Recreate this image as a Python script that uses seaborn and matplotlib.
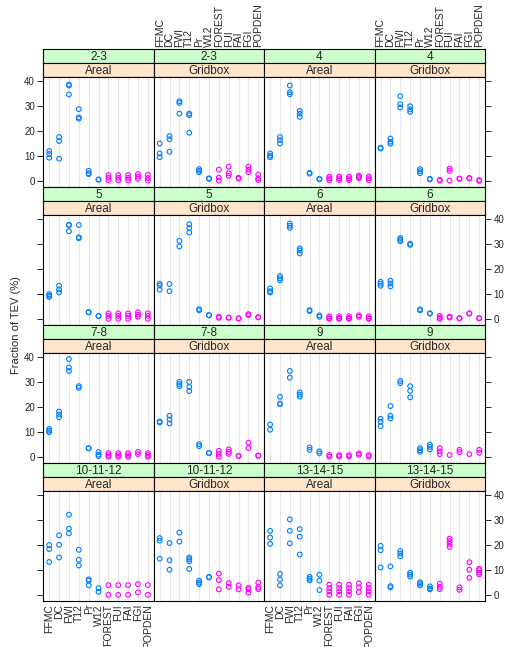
import numpy as np
import pandas as pd
import matplotlib
matplotlib.use("Agg")
import matplotlib.pyplot as plt
import seaborn as sns

# ------------------------------------------------------------------
# data
# ------------------------------------------------------------------
cats = ["FFMC", "DC", "FWI", "T12", "Pr", "W12",
        "FOREST", "FUI", "FAI", "FGI", "POPDEN"]
weather_cats = cats[:6]
leads = ["2-3", "4", "5", "6", "7-8", "9", "10-11-12", "13-14-15"]
methods = ["Areal", "Gridbox"]

areal_2_3 = [[12, 10.8, 9.3], [17.6, 16, 8.9], [38.7, 38.3, 34.7], [28.8, 25.5, 25],
             [4, 3, 2.7], [0.5, 0.5], [2.3, 1.2, 0.2], [2.3, 1.2, 0.2],
             [2.3, 1.2, 0.2], [2.7, 1.7, 0.8], [2.4, 1.1, 0.1]]
gridbox_2_3 = [[15, 11, 9.5], [18, 16.7, 11.7], [32, 31.3, 27], [27, 26.4, 19.3],
               [4.7, 4, 3.5], [1, 0.8], [4.5, 1.3, 0.1], [5.7, 3, 2],
               [1.2, 0.9], [5.7, 4.5, 3.5], [2.5, 1, 0.3]]
areal_4 = [[11, 10.1, 9.5], [17.6, 16.4, 15], [38.3, 35.6, 34.8], [28.1, 27, 25.7],
           [3.2, 2.9], [0.8, 0.6], [1.7, 1, 0.3], [1.7, 1, 0.3],
           [1.7, 1, 0.3], [2.1, 1.5, 1.1], [1.7, 1, 0.3]]
gridbox_4 = [[13.3, 13], [17, 15.7, 14.9], [34, 30.8, 29.5], [30, 28.7, 27.7],
             [4.7, 3.9, 3.1], [0.8, 0.6], [0.4, 0.1], [4.9, 4, 0.1],
             [0.9, 0.8], [1.1, 1.0], [0.3, 0]]
areal_5 = [[9.9, 9.3, 8.8], [13.3, 11.8, 10.6], [37.8, 37.6, 35.2], [37.7, 32.8, 32.4],
           [2.7, 2.6], [1.2, 1.1], [2.2, 1.2, 0], [2.2, 1.2, 0],
           [2.2, 1.2, 0], [2.6, 1.6, 0.8], [2.2, 1.2, 0]]
gridbox_5 = [[14.1, 13.4, 11.7], [14, 11.1], [31.3, 29.1], [38, 36.5, 34.7],
             [3.9, 3.4], [1.5, 1.4], [0.8, 0.4], [0.5, 0.4],
             [0.2, 0.1], [1.9, 1.5], [0.7, 0.6]]
areal_6 = [[12.2, 11.1, 10.6], [17.2, 16.3, 15.5], [38.3, 37.4, 36.6], [28.3, 27.5, 26.3],
           [3.5, 3.1], [1.4, 0.8], [1, 0.3, 0], [1, 0.3, 0],
           [1, 0.3, 0], [1.4, 0.8], [1, 0.3, 0]]
gridbox_6 = [[14.9, 14.1, 13.3], [15.3, 14.2, 13], [32.5, 31.8, 31.2], [30.2, 29.7],
             [3.8, 3.4], [2.2, 2.1], [1.2, 0.5, 0], [0.9, 0.5],
             [0.3, 0.2], [2.2, 2.1], [0.3, 0.2]]
areal_7_8 = [[11.2, 10.5, 9.9], [18.2, 17, 15.9], [39.3, 35.9, 34.5], [28.4, 27.7],
             [3.5, 3.4], [1.9, 0.9, 0.3], [1.5, 0.7, 0], [1.5, 0.7, 0],
             [1.5, 0.7, 0], [2, 1.1], [1.5, 0.7, 0]]
gridbox_7_8 = [[14.2, 13.8], [16.5, 15, 13.4], [30.1, 29.2, 28.4], [30.1, 28.1, 26.4],
               [5.1, 4.3], [1.6, 1.5], [2.4, 1.2, 0.1], [3, 2, 1.2],
               [0.4, 0.3], [5.7, 3.5], [0.5, 0.4]]
areal_9 = [[13, 10.9], [24.1, 21.4, 21.2], [34.5, 31.8], [25.9, 25, 24.2],
           [3.8, 2.8], [2.2, 1.4], [0.7, 0.1], [0.7, 0.1],
           [0.7, 0.1], [1.4, 0.8], [0.7, 0.1]]
gridbox_9 = [[15.3, 14.1, 12.3], [20.4, 16.5, 15.4], [30.5, 29.6], [28.4, 26.5, 23.9],
             [3.5, 2.7, 2], [4.9, 4, 3], [3.5, 2.2, 1.1], [0.7],
             [2.8, 1.9], [1.1], [2.8, 1.6]]
areal_10_12 = [[20, 18.4, 13.2], [23.9, 20.1, 15], [32.2, 26.6, 24.7], [18.1, 14.1, 11.8],
               [6.2, 5.7, 3.8], [2.7, 1.2], [3.9, 0], [3.9, 0],
               [3.9, 0], [4.3, 1.0], [3.9, 0]]
gridbox_10_12 = [[22.8, 21.8, 14.5], [20.8, 13.9, 10.1], [25, 21.4], [15, 14.3, 13.5, 10.4],
                 [5.7, 4.9, 4.3], [7.2, 7.0], [8.5, 5.9, 2.2], [4.7, 3.2],
                 [3.8, 2.2], [2.8, 2.2, 0.9], [4.9, 3, 2.3]]
areal_13_15 = [[25.7, 23, 20.5], [8.4, 6.2, 3.8], [30.3, 25.7, 20.7], [26.4, 23.4, 16.2],
               [7.2, 6.5, 5.8], [8.1, 5.7, 1.9], [4.1, 2.7, 1.4, 0], [4.1, 2.7, 1.4, 0],
               [4.1, 2.7, 1.4, 0], [4.6, 3, 1.1], [4.1, 2.7, 1.4, 0]]
gridbox_13_15 = [[19.7, 17.9, 11], [11.4, 3.5, 3], [17.6, 16.6, 15.5], [8.9, 8.1, 7.3],
                 [5.1, 4.5, 3.8], [3.4, 2.6, 2.2], [4.5, 3.2, 2.3], [22.6, 21.6, 20.5, 19.3],
                 [3, 2], [13.1, 10.1, 6.8], [10.5, 9.9, 8.9, 8.2]]

panel_data = {
    ("2-3", "Areal"): areal_2_3, ("2-3", "Gridbox"): gridbox_2_3,
    ("4", "Areal"): areal_4, ("4", "Gridbox"): gridbox_4,
    ("5", "Areal"): areal_5, ("5", "Gridbox"): gridbox_5,
    ("6", "Areal"): areal_6, ("6", "Gridbox"): gridbox_6,
    ("7-8", "Areal"): areal_7_8, ("7-8", "Gridbox"): gridbox_7_8,
    ("9", "Areal"): areal_9, ("9", "Gridbox"): gridbox_9,
    ("10-11-12", "Areal"): areal_10_12, ("10-11-12", "Gridbox"): gridbox_10_12,
    ("13-14-15", "Areal"): areal_13_15, ("13-14-15", "Gridbox"): gridbox_13_15,
}

rows = []
for (lead, method), vals in panel_data.items():
    for cat, pts in zip(cats, vals):
        grp = "weather" if cat in weather_cats else "human"
        for v in pts:
            rows.append({"lead": lead, "method": method, "var": cat, "group": grp, "tev": v})
df = pd.DataFrame(rows)

# ------------------------------------------------------------------
# styling
# ------------------------------------------------------------------
sns.set_style("white")
plt.rcParams["font.family"] = ["Liberation Sans", "DejaVu Sans"]

BLUE = "#0080ff"
MAGENTA = "#ff00ff"
GREEN_STRIP = "#ccffcc"
ORANGE_STRIP = "#ffe5cc"
palette = {"weather": BLUE, "human": MAGENTA}

W, H = 507, 647
fig = plt.figure(figsize=(W / 100, H / 100), dpi=100)

left0, pw = 43.3, 110.45
top0, block, sh, ph = 49.3, 138.0, 14.0, 110.0


def fig_rect(x, y, w, h):
    return [x / W, 1 - (y + h) / H, w / W, h / H]


panels = [(lead, m) for lead in leads for m in methods]
for idx, (lead, method) in enumerate(panels):
    r, c = divmod(idx, 4)
    x = left0 + c * pw
    ytop = top0 + r * block

    # strips
    for k, (txt, col) in enumerate([(lead, GREEN_STRIP), (method, ORANGE_STRIP)]):
        sax = fig.add_axes(fig_rect(x, ytop + k * sh, pw, sh))
        sax.set_facecolor(col)
        sax.set_xlim(-0.6, 10.6)
        sax.set_yticks([])
        sax.set_xticks([])
        for sp in sax.spines.values():
            sp.set_linewidth(0.8)
            sp.set_color("black")
        sax.text(0.5, 0.45, txt, transform=sax.transAxes, ha="center", va="center", fontsize=8.5)
        if k == 0 and r == 0 and c in (1, 3):
            sax.set_xticks(range(len(cats)))
            sax.set_xticklabels(cats, rotation=90, fontsize=7.5)
            sax.xaxis.tick_top()
            sax.tick_params(axis="x", length=0, pad=2)

    ax = fig.add_axes(fig_rect(x, ytop + 2 * sh, pw, ph))
    sub = df[(df["lead"] == lead) & (df["method"] == method)]
    sns.stripplot(data=sub, x="var", y="tev", hue="group", order=cats,
                  palette=palette, jitter=False, size=3.4, linewidth=0.8,
                  legend=False, ax=ax)
    for coll in ax.collections:
        coll.set_edgecolor(coll.get_facecolors())
        coll.set_facecolor("none")

    ax.set_xlim(-0.6, 10.6)
    ax.set_ylim(-2.6, 41.6)
    ax.set_xlabel("")
    ax.set_ylabel("")
    ax.set_xticks(range(len(cats)))
    ax.grid(axis="x", color="#e6e6e6", linewidth=0.8)
    ax.set_axisbelow(True)
    for sp in ax.spines.values():
        sp.set_linewidth(0.8)
        sp.set_color("black")

    if r == 3 and c in (0, 2):
        ax.set_xticklabels(cats, rotation=90, fontsize=7.5)
        ax.tick_params(axis="x", length=0, pad=2)
    else:
        ax.tick_params(axis="x", length=0, labelbottom=False)

    ax.set_yticks([0, 10, 20, 30, 40])
    labels_left = r % 2 == 0
    ax.tick_params(axis="y", direction="out", length=4, width=0.7, labelsize=7,
                   left=(c == 0), right=(c == 3),
                   labelleft=(c == 0 and labels_left),
                   labelright=(c == 3 and not labels_left), pad=2)

fig.text(16 / W, 1 - 325 / H, "Fraction of TEV (%)", rotation=90,
         ha="center", va="center", fontsize=8)

fig.savefig("out.png", dpi=100)
